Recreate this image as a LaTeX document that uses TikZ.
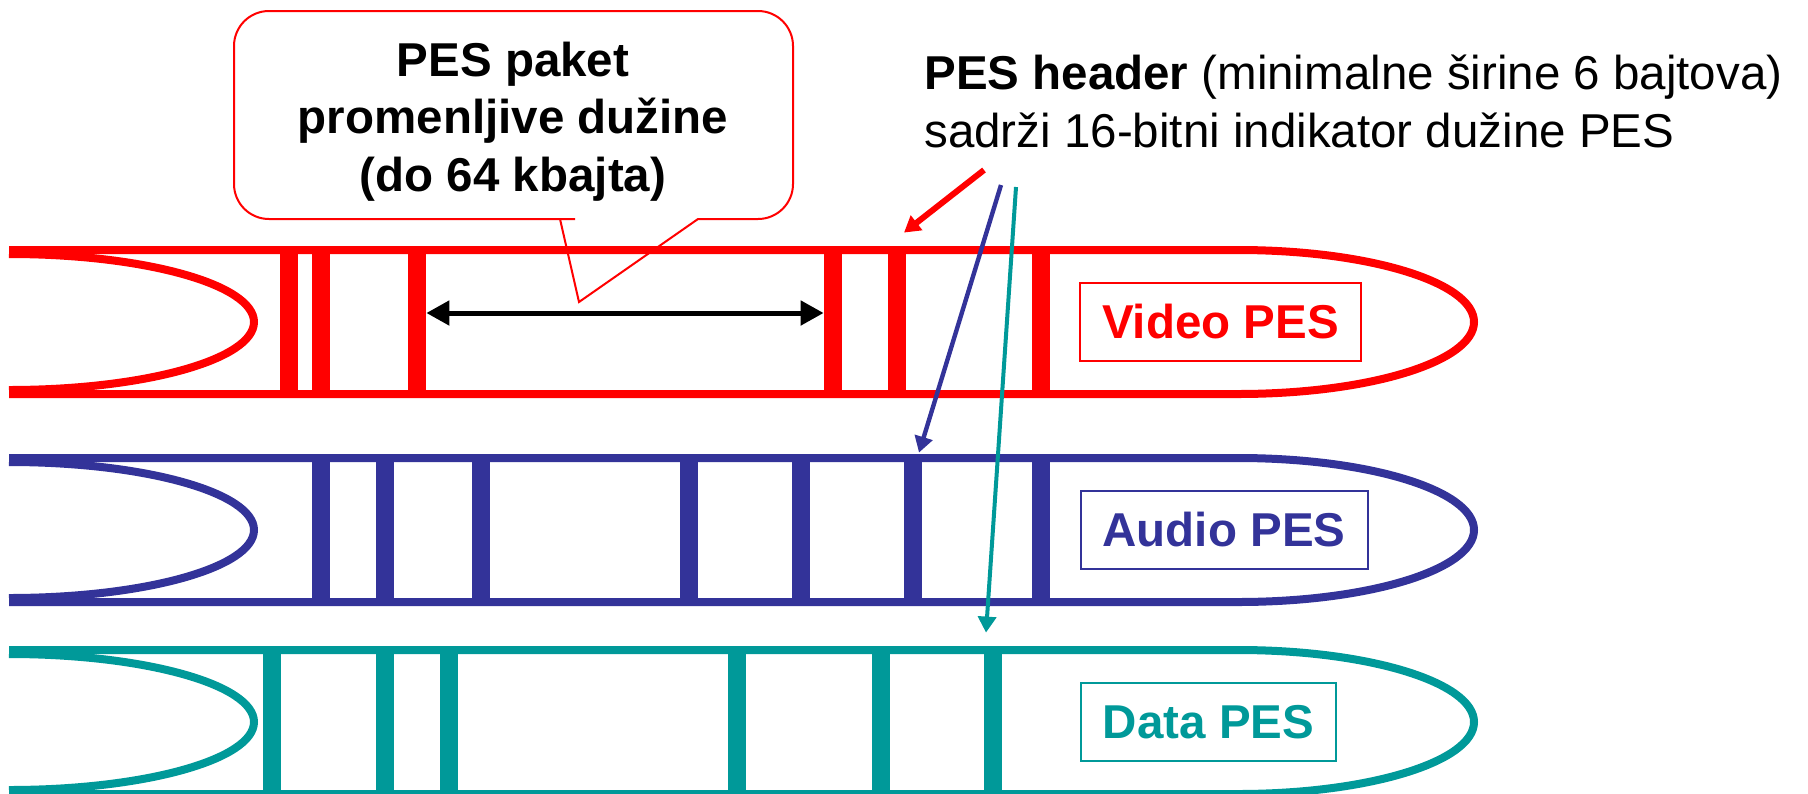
\documentclass[tikz,border=0pt]{standalone}
\usepackage{fontspec}
\setmainfont{Liberation Sans}
\usetikzlibrary{arrows.meta}
\definecolor{pesred}{HTML}{FF0000}
\definecolor{pesblue}{HTML}{333399}
\definecolor{pesteal}{HTML}{009999}

\begin{document}
\begin{tikzpicture}[x=0.5pt,y=-0.5pt,
  txt/.style={font=\fontsize{23.75}{28.75}\selectfont, inner sep=0pt},
  btxt/.style={font=\bfseries\fontsize{23.75}{28.75}\selectfont, inner sep=0pt},
  streamline/.style={line width=4pt},
  endface/.style={line width=4pt},
  hdrbar/.style={rectangle, inner sep=0pt, minimum width=9pt, minimum height=72pt, draw=none},
  tag/.style={rectangle, draw, line width=1pt, inner sep=0pt, minimum height=39pt,
              font=\bfseries\fontsize{23.75}{28.75}\selectfont},
  pointer/.style={line width=2.2pt, -{Triangle[length=8pt,width=9pt]}},
  span/.style={line width=2.5pt, {Triangle[length=11.5pt,width=12pt]}-{Triangle[length=11.5pt,width=12pt]}},
  callout/.style={draw=pesred, line width=1pt}
]
\useasboundingbox (0,0) rectangle (1808,793);

% callout with the packet length note
\draw[callout] (513,11) [rounded corners=17.5pt] -- (234,11) -- (234,219) -- (540,219)
  [sharp corners] -- (560,219) -- (579,302) -- (698,219) -- (720,219)
  [rounded corners=17.5pt] -- (793,219) -- (793,11) -- cycle;
\node[btxt, anchor=base] (c1) at (513,76) {PES paket};
\node[btxt, anchor=base] (c2) at (513,133) {promenljive dužine};
\node[btxt, anchor=base] (c3) at (513,191) {(do 64 kbajta)};

% header note
\node[txt, anchor=base west] (h1) at (924,89) {\textbf{PES header} (minimalne širine 6 bajtova)};
\node[txt, anchor=base west] (h2) at (924,147) {sadrži 16-bitni indikator dužine PES};

% video stream
\draw[streamline, pesred] (9,250) -- (1238,250)
  arc[start angle=90, end angle=-90, x radius=118pt, y radius=36pt] -- (9,394);
\draw[endface, pesred] (9,254) arc[start angle=90, end angle=-90, x radius=122.5pt, y radius=34pt];
\foreach \x [count=\i] in {289,321,417,833,897,1041}
  \node[hdrbar, fill=pesred] (v\i) at (\x,322) {};
\node[tag, draw=pesred, text=pesred, minimum width=140.5pt] (vtag) at (1220.5,322) {Video PES};

% audio stream
\draw[streamline, pesblue] (9,458) -- (1238,458)
  arc[start angle=90, end angle=-90, x radius=118pt, y radius=36pt] -- (9,602);
\draw[endface, pesblue] (9,462) arc[start angle=90, end angle=-90, x radius=122.5pt, y radius=34pt];
\foreach \x [count=\i] in {321,385,481,689,801,913,1041}
  \node[hdrbar, fill=pesblue] (a\i) at (\x,530) {};
\node[tag, draw=pesblue, text=pesblue, minimum width=143.5pt] (atag) at (1224,530) {Audio PES};

% data stream
\draw[streamline, pesteal] (9,650) -- (1238,650)
  arc[start angle=90, end angle=-90, x radius=118pt, y radius=36pt] -- (9,794);
\draw[endface, pesteal] (9,654) arc[start angle=90, end angle=-90, x radius=122.5pt, y radius=34pt];
\foreach \x [count=\i] in {272,385,449,737,881,993}
  \node[hdrbar, fill=pesteal] (d\i) at (\x,722) {};
\node[tag, draw=pesteal, text=pesteal, minimum width=127.5pt] (dtag) at (1208.5,722) {Data PES};

% packet length between two headers
\draw[span] ([yshift=4.5pt]v3.east) -- ([yshift=4.5pt]v4.west);

% pointers from the header note to the headers
\coordinate (rs) at (984,170);
\coordinate (bs) at (1001,185);
\coordinate (ts) at (1016,187);
\draw[pointer, pesred, line width=3pt] (rs) -- ([shift={(3.5pt,8.5pt)}]v5.north);
\draw[pointer, pesblue] (bs) -- ([shift={(3pt,2.5pt)}]a6.north);
\draw[pointer, pesteal, line width=2pt] (ts) -- ([shift={(-3.5pt,8.5pt)}]d6.north);
\end{tikzpicture}
\end{document}
